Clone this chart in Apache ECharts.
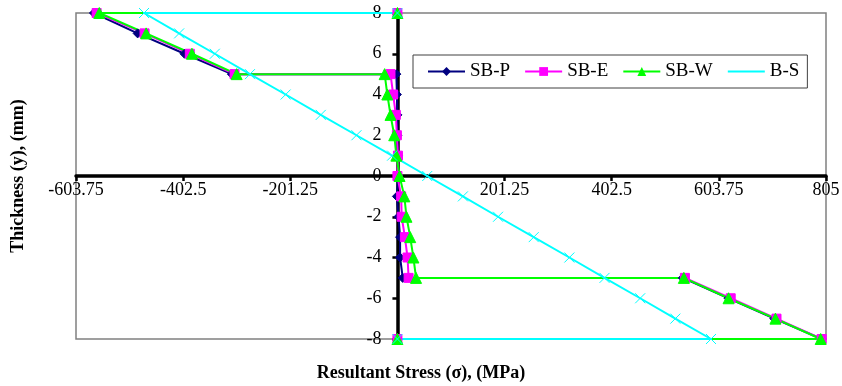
<!DOCTYPE html>
<html>
<head>
<meta charset="utf-8">
<script src="https://cdn.jsdelivr.net/npm/echarts@6/dist/echarts.min.js"></script>
<style>html,body{margin:0;padding:0;background:#fff}#c{width:842px;height:386px}</style>
</head>
<body>
<div id="c"></div>
<script>
// Thickness (y) for SB profiles: top surface closing point, profile, bottom closing point
var thicknessSB = [8, 8, 7, 6, 5, 5, 4, 3, 2, 1, 0, -1, -2, -3, -4, -5, -5, -6, -7, -8, -8];
var stressSBP = [0, -570, -488, -400, -311, -2, -1, 0, 0, 1, 1, -1, 2, 5, 5, 10, 536, 622, 708, 797, 0];
var stressSBE = [0, -565, -475, -390, -306, -13, -8, -3, -1, 1, 0, 7, 8, 14, 19, 21, 540, 626, 712, 797, 0];
var stressSBW = [0, -560, -472, -386, -302, -24, -19, -13, -6, -2, 4, 13, 17, 24, 30, 35, 538, 622, 710, 795, 0];
var thicknessBS = [8, 8, 7, 6, 5, 4, 3, 2, 1, 0, -1, -2, -3, -4, -5, -6, -7, -8, -8];
var stressBS = [0, -476, -410, -343, -277, -210, -144, -77, -10, 56, 123, 189, 256, 323, 389, 456, 522, 589, 0];
var seriesNames = ['SB-P', 'SB-E', 'SB-W', 'B-S'];
var xTitle = 'Resultant Stress (σ), (MPa)';
var yTitle = 'Thickness (y), (mm)';
var xMin = -603.75, xMax = 805, xStep = 201.25;
var yMin = -8, yMax = 8, yStep = 2;

function pairs(xs, ys) { return xs.map(function (v, i) { return [v, ys[i]]; }); }

var W = 842, H = 386;
var G = { left: 76, right: 16, top: 13, bottom: 47 };
var gw = W - G.left - G.right, gh = H - G.top - G.bottom;
// move axes so they cross at zero (labels follow)
var xOffset = -gh * (0 - yMin) / (yMax - yMin);
var yOffset = -gw * (0 - xMin) / (xMax - xMin);

var font = '"Liberation Serif", "Times New Roman", serif';
var chart = echarts.init(document.getElementById('c'), null, { renderer: 'canvas' });

function mk(name, data, color, symbol, size) {
  return {
    name: name, type: 'line', data: data, clip: false,
    symbol: symbol, symbolSize: size,
    lineStyle: { color: color, width: 2 },
    itemStyle: { color: color, borderColor: color },
    emphasis: { disabled: true },
    animation: false
  };
}

chart.setOption({
  animation: false,
  backgroundColor: '#fff',
  grid: { left: G.left, right: G.right, top: G.top, bottom: G.bottom, containLabel: false, outerBoundsMode: 'none', show: true, borderColor: '#808080', borderWidth: 1.5, backgroundColor: 'transparent' },
  legend: {
    data: seriesNames,
    left: 413, top: 55,
    padding: [7, 8, 7, 14],
    itemGap: 14,
    itemWidth: 37, itemHeight: 11,
    borderColor: '#404040', borderWidth: 1,
    textStyle: { fontFamily: font, fontSize: 19, color: '#000' }
  },
  graphic: [
    { type: 'text', left: 'center', x: 0, top: 364, style: { text: xTitle, font: 'bold 18px ' + font, fill: '#000' } },
    { type: 'text', x: 18, y: 176, rotation: Math.PI / 2, style: { text: yTitle, font: 'bold 18px ' + font, fill: '#000', align: 'center', verticalAlign: 'middle' } }
  ],
  xAxis: {
    type: 'value', min: xMin, max: xMax, interval: xStep,
    position: 'bottom', offset: xOffset,
    axisLine: { onZero: false, lineStyle: { color: '#000', width: 3.5 } },
    axisTick: { show: true, length: 5, lineStyle: { color: '#000', width: 2.5 } },
    axisLabel: {
      fontFamily: font, fontSize: 18, color: '#000', margin: 5,
      formatter: function (v) { return v === 0 ? '' : String(v); }
    },
    splitLine: { show: false }
  },
  yAxis: {
    type: 'value', min: yMin, max: yMax, interval: yStep,
    position: 'left', offset: yOffset,
    axisLine: { onZero: false, lineStyle: { color: '#000', width: 3.5 } },
    axisTick: { show: true, length: 5, lineStyle: { color: '#000', width: 2.5 } },
    axisLabel: { fontFamily: font, fontSize: 18, color: '#000', margin: 16 },
    splitLine: { show: false }
  },
  series: [
    mk(seriesNames[0], pairs(stressSBP, thicknessSB), '#000080', 'diamond', 9),
    mk(seriesNames[1], pairs(stressSBE, thicknessSB), '#FF00FF', 'rect', 9),
    mk(seriesNames[2], pairs(stressSBW, thicknessSB), '#00FF00', 'triangle', 11),
    mk(seriesNames[3], pairs(stressBS, thicknessBS), '#00FFFF', 'path://M0,0 L10,10 M10,0 L0,10', 10)
  ]
});
</script>
</body>
</html>
